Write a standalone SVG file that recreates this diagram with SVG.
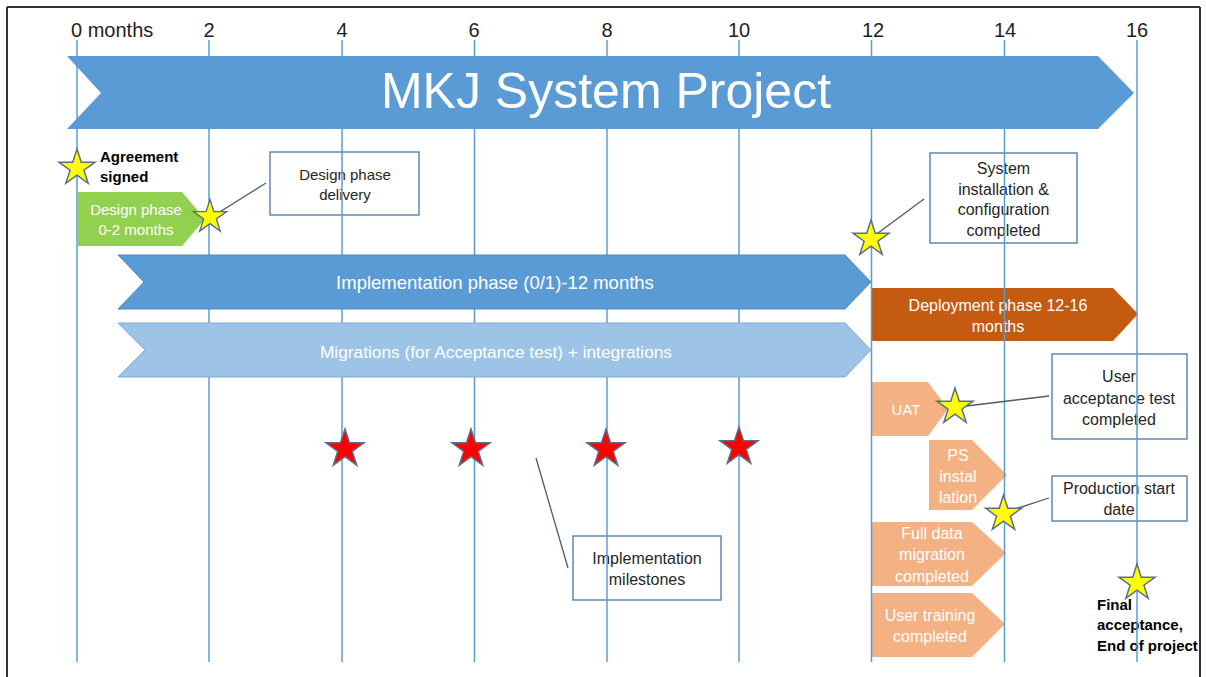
<svg xmlns="http://www.w3.org/2000/svg" width="1206" height="677" viewBox="0 0 1206 677">
<style>
text{font-family:"Liberation Sans",Arial,sans-serif}
.tick{font-size:20px;fill:#1e1e1e}
.wt{font-size:16px;fill:#ffffff;text-anchor:middle}
.bt{font-size:16px;fill:#262626;text-anchor:middle}
.s15{font-size:15px}
.bold{font-size:15px;font-weight:bold;fill:#000}
.box{fill:none;stroke:#4a76a8;stroke-width:1.3}
.grid{stroke:#5b9bd5;stroke-width:1.5}
.conn{stroke:#4a5a70;stroke-width:1.3;fill:none}
.ys{fill:#ffff00;stroke:#5a6e8a;stroke-width:1.5}
.rs{fill:#ff0000;stroke:#5a6e8a;stroke-width:1.5}
</style>
<defs>
<path id="ystar" d="M0,-19 L4.27,-5.87 L18.07,-5.87 L6.9,2.24 L11.17,15.37 L0,7.26 L-11.17,15.37 L-6.9,2.24 L-18.07,-5.87 L-4.27,-5.87 Z"/>
<path id="rstar" d="M0,-20 L4.49,-6.18 L19.02,-6.18 L7.27,2.36 L11.76,16.18 L0,7.64 L-11.76,16.18 L-7.27,2.36 L-19.02,-6.18 L-4.49,-6.18 Z"/>
</defs>
<rect width="1206" height="677" fill="#ffffff"/>
<g id="frame" fill="none" stroke="#333" stroke-width="2">
<line x1="7" y1="7" x2="1200" y2="7"/>
<line x1="7" y1="7" x2="7" y2="677"/>
<line x1="1200" y1="7" x2="1200" y2="677"/>
</g>
<g id="ticks">
<text class="tick" x="71" y="37">0 months</text>
<text class="tick" x="209" y="37" text-anchor="middle">2</text>
<text class="tick" x="342" y="37" text-anchor="middle">4</text>
<text class="tick" x="474" y="37" text-anchor="middle">6</text>
<text class="tick" x="607" y="37" text-anchor="middle">8</text>
<text class="tick" x="739" y="37" text-anchor="middle">10</text>
<text class="tick" x="873" y="37" text-anchor="middle">12</text>
<text class="tick" x="1005" y="37" text-anchor="middle">14</text>
<text class="tick" x="1137" y="37" text-anchor="middle">16</text>
</g>
<g id="title">
<path d="M67,56 L1098,56 L1134,93 L1098,129 L67,129 L101,93 Z" fill="#5b9bd5"/>
</g>
<g id="design-phase">
<path d="M78,192 L182,192 L205,219 L182,246 L78,246 Z" fill="#92d050"/>
<text class="wt s15" x="136" y="215">Design phase</text>
<text class="wt s15" x="136" y="235">0-2 months</text>
</g>
<g id="deployment">
<path d="M872,288 L1113,288 L1138,314 L1113,341 L872,341 Z" fill="#c55a11"/>
<text class="wt" x="998" y="311">Deployment phase 12-16</text>
<text class="wt" x="998" y="332">months</text>
</g>
<g id="uat">
<path d="M872,382 L928,382 L948,409 L928,436 L872,436 Z" fill="#f4b183"/>
<text class="wt s15" x="906" y="414.5">UAT</text>
</g>
<g id="ps-installation">
<path d="M929,440 L972,440 L1007,475 L972,510 L929,510 Z" fill="#f4b183"/>
<text class="wt" x="958" y="461">PS</text>
<text class="wt" x="958" y="482">instal</text>
<text class="wt" x="958" y="503">lation</text>
</g>
<g id="full-data">
<path d="M872,522 L972,522 L1006,553 L972,586 L872,586 Z" fill="#f4b183"/>
<text class="wt" x="932" y="539">Full data</text>
<text class="wt" x="932" y="560">migration</text>
<text class="wt" x="932" y="582">completed</text>
</g>
<g id="user-training">
<path d="M872,593 L972,593 L1005,624 L972,657 L872,657 Z" fill="#f4b183"/>
<text class="wt" x="930" y="621">User training</text>
<text class="wt" x="930" y="642">completed</text>
</g>
<g id="box-design-delivery">
<rect class="box" x="270" y="152" width="149" height="63"/>
<text class="bt s15" x="345" y="180">Design phase</text>
<text class="bt s15" x="345" y="200">delivery</text>
</g>
<g id="box-system">
<rect class="box" x="930" y="153" width="147" height="90"/>
<text class="bt" x="1003.5" y="174">System</text>
<text class="bt" x="1003.5" y="195">installation &amp;</text>
<text class="bt" x="1003.5" y="215">configuration</text>
<text class="bt" x="1003.5" y="236">completed</text>
</g>
<g id="box-uat">
<rect class="box" x="1052" y="354" width="135" height="85"/>
<text class="bt" x="1119" y="382">User</text>
<text class="bt" x="1119" y="404">acceptance test</text>
<text class="bt" x="1119" y="425">completed</text>
</g>
<g id="box-production">
<rect class="box" x="1052" y="476" width="135" height="45"/>
<text class="bt" x="1119" y="494">Production start</text>
<text class="bt" x="1119" y="515">date</text>
</g>
<g id="box-milestones">
<rect class="box" x="573" y="536" width="148" height="64"/>
<text class="bt" x="647" y="564">Implementation</text>
<text class="bt" x="647" y="585">milestones</text>
</g>
<g id="labels">
<text class="bold" x="100" y="162">Agreement</text>
<text class="bold" x="100" y="182">signed</text>
<text class="bold" x="1097" y="610">Final</text>
<text class="bold" x="1097" y="630">acceptance,</text>
<text class="bold" x="1097" y="651">End of project</text>
</g>
<g id="gridlines">
<line class="grid" x1="77" y1="40" x2="77" y2="662"/>
<line class="grid" x1="209" y1="40" x2="209" y2="662"/>
<line class="grid" x1="342" y1="40" x2="342" y2="662"/>
<line class="grid" x1="474.5" y1="40" x2="474.5" y2="662"/>
<line class="grid" x1="607" y1="40" x2="607" y2="662"/>
<line class="grid" x1="739" y1="40" x2="739" y2="662"/>
<line class="grid" x1="871.5" y1="40" x2="871.5" y2="662"/>
<line class="grid" x1="1004.5" y1="40" x2="1004.5" y2="662"/>
<line class="grid" x1="1137" y1="40" x2="1137" y2="662"/>
</g>
<g id="title-text">
<text x="606" y="108" style="font-size:50px" fill="#fff" text-anchor="middle">MKJ System Project</text>
</g>
<g id="implementation">
<path d="M118,255 L845,255 L871,282 L845,309 L118,309 L144,282 Z" fill="#5b9bd5" stroke="#4f88c0" stroke-width="1"/>
<text class="wt" x="495" y="289" style="font-size:18.5px">Implementation phase (0/1)-12 months</text>
</g>
<g id="migrations">
<path d="M118,323 L845,323 L871,350 L845,377 L118,377 L145,350 Z" fill="#9dc3e6" stroke="#7ea9d2" stroke-width="1"/>
<text class="wt" x="496" y="357.5" style="font-size:17.3px">Migrations (for Acceptance test) + integrations</text>
</g>
<g id="connectors">
<line class="conn" x1="266" y1="183" x2="210" y2="218"/>
<line class="conn" x1="924" y1="199" x2="874" y2="236"/>
<line class="conn" x1="1049" y1="396" x2="958" y2="407"/>
<line class="conn" x1="1049" y1="498" x2="1006" y2="512"/>
<line class="conn" x1="536" y1="458" x2="568" y2="568"/>
</g>
<g id="stars">
<use href="#ystar" class="ys" x="77" y="168"/>
<use href="#ystar" class="ys" x="210" y="217" transform="translate(210 217) scale(0.92) translate(-210 -217)"/>
<use href="#ystar" class="ys" x="871" y="239"/>
<use href="#ystar" class="ys" x="955" y="407"/>
<use href="#ystar" class="ys" x="1003.5" y="514"/>
<use href="#ystar" class="ys" x="1137" y="583"/>
<use href="#rstar" class="rs" x="345" y="449"/>
<use href="#rstar" class="rs" x="471" y="449"/>
<use href="#rstar" class="rs" x="606" y="449"/>
<use href="#rstar" class="rs" x="739" y="447"/>
</g>
</svg>
